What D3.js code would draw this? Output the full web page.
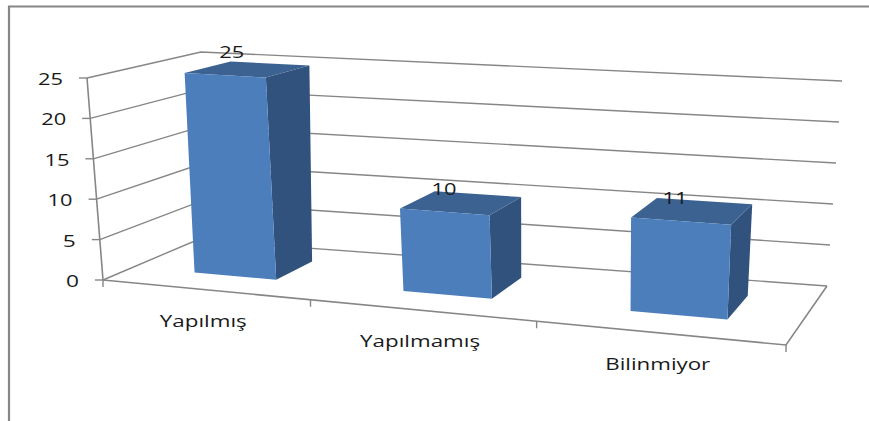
<!DOCTYPE html>
<html>
<head>
<meta charset="utf-8">
<script src="https://cdn.jsdelivr.net/npm/d3@7/dist/d3.min.js"></script>
<style>
  html, body { margin: 0; padding: 0; background: #fff; }
  svg { display: block; }
  text { font-family: "Open Sans", sans-serif; fill: #1a1a1a; }
</style>
</head>
<body>
<svg id="chart" width="869" height="421"></svg>
<script>
const categories = ["Yapılmış", "Yapılmamış", "Bilinmiyor"];
const values = [25, 10, 11];
const valueTicks = [0, 5, 10, 15, 20, 25];

// Corners of the plot box on screen: front-left, front-right, back-right, back-left
const floorQuad = [[103, 280], [786, 345], [827, 286], [197, 240]];
const ceilingQuad = [[87, 78], [800, 123], [842, 81], [201, 52]];

// Projective map of the unit square onto a quadrilateral
function quadMap(q) {
  const [[x0, y0], [x1, y1], [x2, y2], [x3, y3]] = q;
  const dx1 = x1 - x2, dx2 = x3 - x2, sx = x0 - x1 + x2 - x3;
  const dy1 = y1 - y2, dy2 = y3 - y2, sy = y0 - y1 + y2 - y3;
  const det = dx1 * dy2 - dx2 * dy1;
  const g = (sx * dy2 - dx2 * sy) / det;
  const h = (dx1 * sy - sx * dy1) / det;
  const a = x1 - x0 + g * x1, b = x3 - x0 + h * x3;
  const d = y1 - y0 + g * y1, e = y3 - y0 + h * y3;
  return (u, w) => {
    const k = g * u + h * w + 1;
    return [(a * u + b * w + x0) / k, (d * u + e * w + y0) / k];
  };
}
const floorAt = quadMap(floorQuad);
const ceilingAt = quadMap(ceilingQuad);

const yScale = d3.scaleLinear().domain([0, 25]).range([0, 1]);
const xScale = d3.scaleBand().domain(categories).range([0, 1]).paddingInner(0.6).paddingOuter(0.3).align(0.535);
const depthScale = d3.scaleLinear().domain([0, 1]).range([0.3, 0.72]);
// Softens the foreshortening along the category axis
const axisWarp = d3.scaleLinear().domain([0, 1 / 3, 2 / 3, 1]).range([0, 0.366, 0.697, 1]);

// Screen position of a point given its position along the axis, its depth and its value
function project(u, w, v) {
  const s = axisWarp(u);
  const a = floorAt(s, w), b = ceilingAt(s, w), t = yScale(v);
  return [a[0] + (b[0] - a[0]) * t, a[1] + (b[1] - a[1]) * t];
}
const line = d3.line();
const gridColor = "#868686";
const svg = d3.select("#chart");

// Outer frame of the chart area
svg.append("path")
  .attr("d", line([[9, 421], [9, 6.5], [869, 6.5]]))
  .attr("fill", "none").attr("stroke", gridColor).attr("stroke-width", 2.2);

// Walls: gridlines run from the front-left edge to the back corner and along the back wall
svg.append("g").selectAll("path").data(valueTicks).join("path")
  .attr("d", v => line([project(0, 0, v), project(0, 1, v), project(1, 1, v)]))
  .attr("fill", "none").attr("stroke", gridColor).attr("stroke-width", 1.4);

// Vertical axis with its tick marks
svg.append("path")
  .attr("d", line([project(0, 0, 0), project(0, 0, 25)]))
  .attr("fill", "none").attr("stroke", gridColor).attr("stroke-width", 1.6);
svg.append("g").selectAll("path").data(valueTicks).join("path")
  .attr("d", v => { const p = project(0, 0, v); return line([[p[0] - 8, p[1]], p]); })
  .attr("fill", "none").attr("stroke", gridColor).attr("stroke-width", 1.4);
svg.append("g").selectAll("text").data(valueTicks).join("text")
  .attr("x", v => project(0, 0, v)[0] - 24)
  .attr("y", v => project(0, 0, v)[1] + 7)
  .attr("text-anchor", "end")
  .attr("font-size", 17)
  .attr("textLength", v => String(v).length === 2 ? 25 : 13)
  .attr("lengthAdjust", "spacingAndGlyphs")
  .text(d => d);

// Floor edges and category ticks
svg.append("path")
  .attr("d", line([floorQuad[0], floorQuad[1], floorQuad[2]]))
  .attr("fill", "none").attr("stroke", gridColor).attr("stroke-width", 1.6);
svg.append("g").selectAll("path").data(d3.range(categories.length + 1)).join("path")
  .attr("d", i => { const p = project(i / categories.length, 0, 0); return line([p, [p[0], p[1] + 7]]); })
  .attr("fill", "none").attr("stroke", gridColor).attr("stroke-width", 1.4);

// Columns drawn as three visible faces
const bars = svg.append("g").selectAll("g").data(categories).join("g");
const corners = (c, v) => {
  const u0 = xScale(c), u1 = u0 + xScale.bandwidth(), d0 = depthScale(0), d1 = depthScale(1);
  return {
    frontBase: [project(u0, d0, 0), project(u1, d0, 0)],
    backBase: project(u1, d1, 0),
    frontTop: [project(u0, d0, v), project(u1, d0, v)],
    backTop: [project(u0, d1, v), project(u1, d1, v)]
  };
};
bars.append("path").attr("fill", "#31527c")
  .attr("d", (c, i) => {
    const k = corners(c, values[i]);
    return line([k.frontBase[1], k.backBase, k.backTop[1], k.frontTop[1]]) + "Z";
  });
bars.append("path").attr("fill", "#3b6291")
  .attr("d", (c, i) => {
    const k = corners(c, values[i]);
    return line([k.frontTop[0], k.backTop[0], k.backTop[1], k.frontTop[1]]) + "Z";
  });
bars.append("path").attr("fill", "#4c7ebc")
  .attr("d", (c, i) => {
    const k = corners(c, values[i]);
    return line([k.frontBase[0], k.frontBase[1], k.frontTop[1], k.frontTop[0]]) + "Z";
  });

// Value labels above each column
svg.append("g").selectAll("text").data(categories).join("text")
  .attr("x", c => project(xScale(c) + xScale.bandwidth() / 2, depthScale(0), 0)[0] - 3)
  .attr("y", (c, i) => project(xScale(c) + xScale.bandwidth() / 2, depthScale(0), values[i])[1] - 17)
  .attr("text-anchor", "middle")
  .attr("font-size", 17)
  .attr("textLength", 25)
  .attr("lengthAdjust", "spacingAndGlyphs")
  .text((c, i) => values[i]);

// Category labels under the floor edge
const labelWidths = [87, 120, 105];
svg.append("g").selectAll("text").data(categories).join("text")
  .attr("x", c => project(xScale(c) + xScale.bandwidth() / 2, 0, 0)[0] - 3)
  .attr("y", c => project(xScale(c) + xScale.bandwidth() / 2, 0, 0)[1] + 37)
  .attr("text-anchor", "middle")
  .attr("font-size", 16)
  .attr("textLength", (c, i) => labelWidths[i])
  .attr("lengthAdjust", "spacingAndGlyphs")
  .text(c => c);
</script>
</body>
</html>
